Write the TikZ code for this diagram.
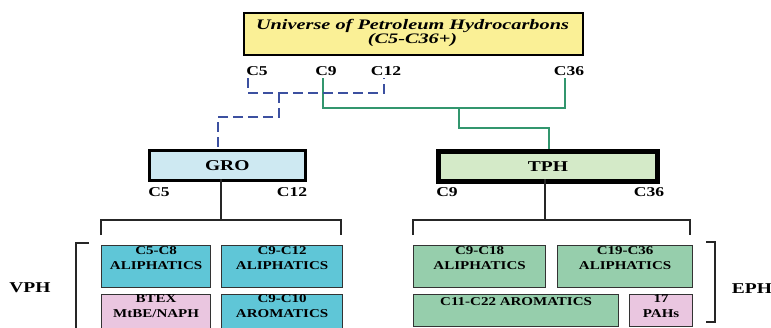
\documentclass[tikz,border=0pt]{standalone}
\usepackage{fontspec}
\setmainfont[FakeStretch=1.3]{Liberation Serif}
\newfontfamily\titlefont[FakeStretch=1.4]{Liberation Serif}
\newfontfamily\boxfont[FakeStretch=1.25]{Liberation Serif}
\usetikzlibrary{calc}
\definecolor{ttlyellow}{RGB}{250,240,150}
\definecolor{grofill}{RGB}{206,233,242}
\definecolor{tphfill}{RGB}{212,234,200}
\definecolor{cyanbox}{RGB}{95,198,215}
\definecolor{greenbox}{RGB}{150,206,172}
\definecolor{pinkbox}{RGB}{234,198,224}
\definecolor{dashblue}{RGB}{60,80,160}
\definecolor{linegreen}{RGB}{50,150,110}
\begin{document}
\begin{tikzpicture}[x=1pt,y=-1pt,
 lbl/.style={font=\bfseries\fontsize{13.5}{13.5}\selectfont, inner sep=0},
 biglbl/.style={font=\bfseries\fontsize{15}{15}\selectfont, inner sep=0},
 sbox/.style={draw=black!80, line width=1.2pt, anchor=north west, inner sep=0},
 btxt/.style={font=\boxfont\bfseries\fontsize{12}{15}\selectfont, align=center, anchor=north, inner sep=0},
 brk/.style={draw=black!85, line width=1.1pt},
 gline/.style={draw=linegreen, line width=2.2pt},
 bline/.style={draw=dashblue, line width=2.2pt, dash pattern=on 10pt off 5pt}]
\useasboundingbox (0,0) rectangle (771,327);

% title
\node[draw, line width=2pt, fill=ttlyellow, minimum width=339pt, minimum height=42pt, anchor=north west, inner sep=0] (uni) at (243,12) {};
\node[font=\titlefont\bfseries\itshape\fontsize{14.5}{14.5}\selectfont, align=center, inner sep=0] (unitxt) at (412.5,33) {Universe of Petroleum Hydrocarbons\\(C5-C36+)};

% carbon labels
\node[lbl] (c5t) at (257,71) {C5};
\node[lbl] (c9t) at (326,71) {C9};
\node[lbl] (c12t) at (386,71) {C12};
\node[lbl] (c36t) at (569,71) {C36};

% GRO and TPH
\node[sbox, draw=black, line width=2.5pt, fill=grofill, minimum width=156pt, minimum height=30pt] (gro) at (148,149) {};
\node[biglbl] (grotxt) at (gro.center) {GRO};
\node[sbox, draw=black, line width=5pt, fill=tphfill, minimum width=219pt, minimum height=30pt] (tph) at (436,149) {};
\node[biglbl] (tphtxt) at (tph.center) {TPH};

\node[lbl] (g5) at (159,192) {C5};
\node[lbl] (g12) at (292,192) {C12};
\node[lbl] (t9) at (447,192) {C9};
\node[lbl] (t36) at (649,192) {C36};

% connector coordinates
\coordinate (c5s) at (248,78);
\coordinate (c12s) at (384,78);
\coordinate (bj) at (279,93);
\coordinate (groin) at (218,149);
\coordinate (c9s) at (323,78);
\coordinate (c36s) at (565,78);
\coordinate (gj) at (459,108);
\coordinate (tphin) at (549,149);

\draw[gline] (c9s) -- (323,108) -- (565,108) -- (c36s);
\draw[gline] (gj) -- (459,128) -- (549,128) -- (tphin);
\draw[bline] (c5s) -- (248,93) -- (384,93) -- (c12s);
\draw[bline] (bj) -- (279,117) -- (218,117) -- (groin);

% brackets
\coordinate (grob) at (221,179);
\coordinate (tphb) at (545,179);
\draw[brk] (grob) -- (221,220);
\draw[brk] (101,235) -- (101,220) -- (341,220) -- (341,235);
\draw[brk] (tphb) -- (545,220);
\draw[brk] (413,235) -- (413,220) -- (690,220) -- (690,235);
\draw[brk] (89,243) -- (76,243) -- (76,340);
\draw[brk] (706,242) -- (715,242) -- (715,322) -- (706,322);
\node[biglbl] (vph) at (30,288) {VPH};
\node[biglbl] (eph) at (752,289) {EPH};

% VPH boxes
\node[sbox, fill=cyanbox, minimum width=109pt, minimum height=42pt] (b1) at (101,245) {};
\node[btxt] (b1t) at ($(b1.north)+(0,1.5)$) {C5-C8\\ALIPHATICS};
\node[sbox, fill=cyanbox, minimum width=121pt, minimum height=42pt] (b2) at (221,245) {};
\node[btxt] (b2t) at ($(b2.north)+(0,1.5)$) {C9-C12\\ALIPHATICS};
\node[sbox, fill=pinkbox, minimum width=109pt, minimum height=42pt] (b3) at (101,294) {};
\node[btxt] (b3t) at ($(b3.north)+(0,0.5)$) {BTEX\\MtBE/NAPH};
\node[sbox, fill=cyanbox, minimum width=121pt, minimum height=42pt] (b4) at (221,294) {};
\node[btxt] (b4t) at ($(b4.north)+(0,0.5)$) {C9-C10\\AROMATICS};

% EPH boxes
\node[sbox, fill=greenbox, minimum width=132pt, minimum height=42pt] (e1) at (413,245) {};
\node[btxt] (e1t) at ($(e1.north)+(0,1.5)$) {C9-C18\\ALIPHATICS};
\node[sbox, fill=greenbox, minimum width=135pt, minimum height=42pt] (e2) at (557,245) {};
\node[btxt] (e2t) at ($(e2.north)+(0,1.5)$) {C19-C36\\ALIPHATICS};
\node[sbox, fill=greenbox, minimum width=205pt, minimum height=32pt] (e3) at (413,294) {};
\node[btxt] (e3t) at ($(e3.north)+(0,3)$) {C11-C22 AROMATICS};
\node[sbox, fill=pinkbox, minimum width=63pt, minimum height=32pt] (e4) at (629,294) {};
\node[btxt] (e4t) at ($(e4.north)+(0,0.5)$) {17\\PAHs};
\end{tikzpicture}
\end{document}
